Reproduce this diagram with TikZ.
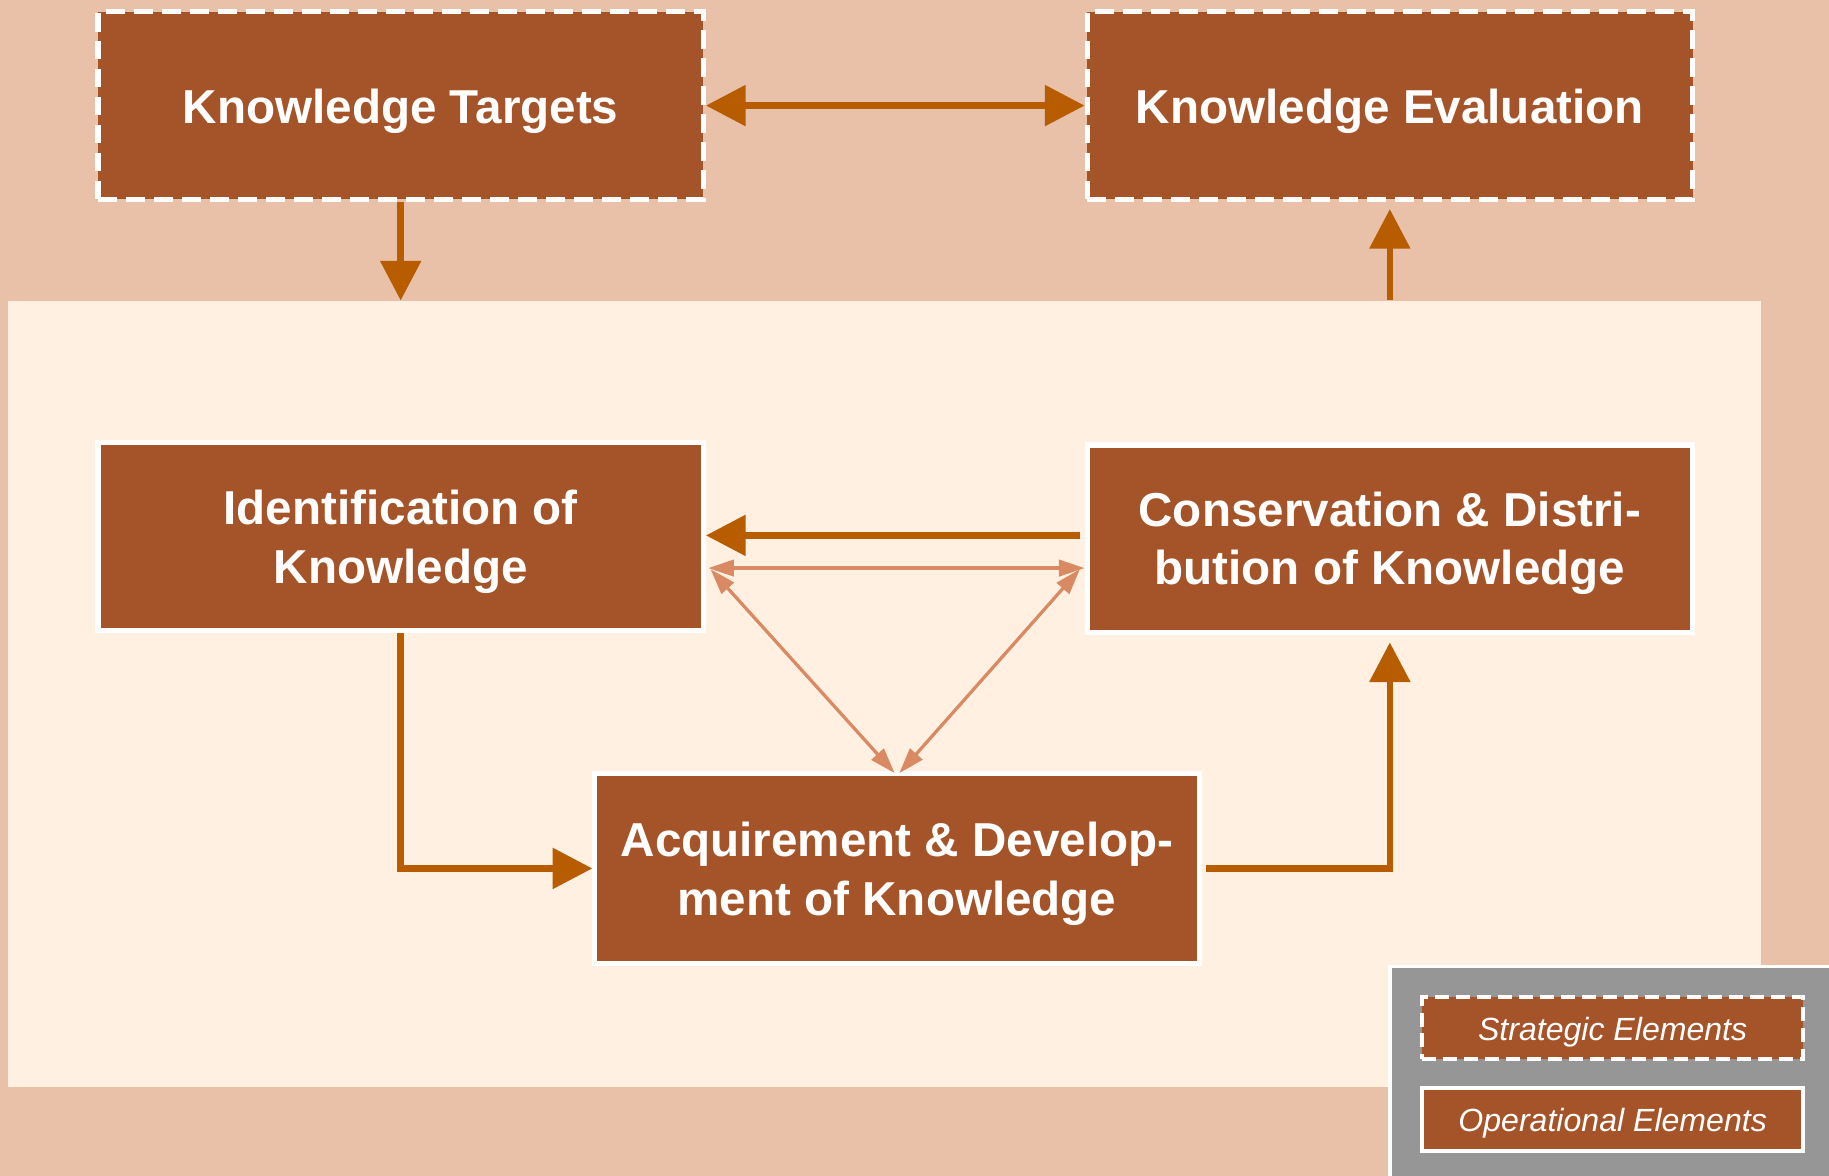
\documentclass[tikz,border=0pt]{standalone}
\usepackage{fontspec}
\setmainfont{Liberation Sans}
\usetikzlibrary{arrows.meta}
\definecolor{bgout}{RGB}{233,192,168}
\definecolor{bgin}{RGB}{255,240,225}
\definecolor{boxfill}{RGB}{165,84,41}
\definecolor{arrowc}{RGB}{184,92,0}
\definecolor{thinc}{RGB}{217,138,98}
\definecolor{leggray}{RGB}{150,150,150}
\newcommand{\tbtext}[2]{\raisebox{#1}[\height][\depth]{\begin{tabular}{@{}c@{}}#2\end{tabular}}}
\newcommand{\lowered}[2]{\raisebox{#1}[\height][\depth]{#2}}
\tikzset{
  opbox/.style={rectangle, fill=boxfill, draw=white, line width=2.2pt, inner sep=0pt,
    minimum width=259.5pt, minimum height=80.5pt, align=center, text=white,
    font=\bfseries\fontsize{20.4}{25}\selectfont},
  stratbox/.style={opbox, dash pattern=on 8pt off 4pt},
  legop/.style={rectangle, fill=boxfill, draw=white, line width=1.8pt, inner sep=0pt,
    minimum width=163.5pt, minimum height=26.5pt, text=white,
    font=\itshape\fontsize{13.75}{16}\selectfont},
  legstrat/.style={legop, dash pattern=on 6pt off 3pt},
  bigarrow/.style={draw=arrowc, line width=2.8pt, -{Triangle[length=17pt,width=17pt]}},
  bigdouble/.style={bigarrow, {Triangle[length=17pt,width=17pt]}-{Triangle[length=17pt,width=17pt]}},
  thinarrow/.style={draw=thinc, line width=1.4pt, {Triangle[length=11pt,width=7pt]}-{Triangle[length=11pt,width=7pt]}},
}
\begin{document}
\begin{tikzpicture}[x=0.5pt,y=-0.5pt]
\fill[bgout] (0,0) rectangle (1568,1008);
\useasboundingbox (0,0) rectangle (1568,1008);
\node[rectangle, fill=bgin, inner sep=0pt, minimum width=751.5pt, minimum height=337pt] (panel) at (758.5,595) {};

\node[stratbox] (kt) at (343.5,90.5) {\tbtext{-2.5pt}{Knowledge Targets}};
\node[stratbox] (ke) at (1191.5,90.5) {\tbtext{-2.5pt}{Knowledge Evaluation}};
\node[opbox] (id) at (343.5,460) {\tbtext{-2.5pt}{Identification of\\Knowledge}};
\node[opbox] (cons) at (1191.5,462) {\tbtext{-2pt}{Conservation \& Distri-\\bution of Knowledge}};
\node[opbox, minimum width=259pt, minimum height=81.5pt] (acq) at (769,744.5) {\tbtext{-2.5pt}{Acquirement \& Develop-\\ment of Knowledge}};

% legend
\node[rectangle, fill=leggray, inner sep=0pt, minimum width=188pt, minimum height=89.5pt] (leg) at (1380,918.5) {};
\draw[white, line width=1.5pt] (leg.south west) -- (leg.north west) -- (leg.north east);
\node[legstrat] (lstrat) at (1382.5,881.5) {\lowered{-1.5pt}{Strategic Elements}};
\node[legop, minimum height=27pt] (lop) at (1382.5,960) {\lowered{-1.5pt}{Operational Elements}};

% arrows
\draw[bigdouble] (kt.east) -- (ke.west);
\draw[bigarrow] (kt.south) -- (kt.south |- panel.north);
\draw[bigarrow] (ke.south |- panel.north) -- ([yshift=-3pt]ke.south);
\draw[bigarrow] (id.south) |- (acq.west);
\draw[bigarrow] ([xshift=2pt]acq.east) -| ([yshift=-3pt]cons.south);
\draw[bigarrow] ([xshift=-2pt,yshift=1.5pt]cons.west) -- ([yshift=1.5pt]cons.west -| id.east);
\draw[thinarrow] ([xshift=1pt,yshift=-13.5pt]id.east) -- ([yshift=-13.5pt]id.east -| cons.west);
\draw[thinarrow] ([xshift=2pt,yshift=-14pt]id.east) -- ([xshift=-1pt,yshift=-1pt]acq.north);
\draw[thinarrow] ([xshift=-2pt,yshift=-13pt]cons.west) -- ([xshift=1pt,yshift=-1pt]acq.north);
\end{tikzpicture}
\end{document}
